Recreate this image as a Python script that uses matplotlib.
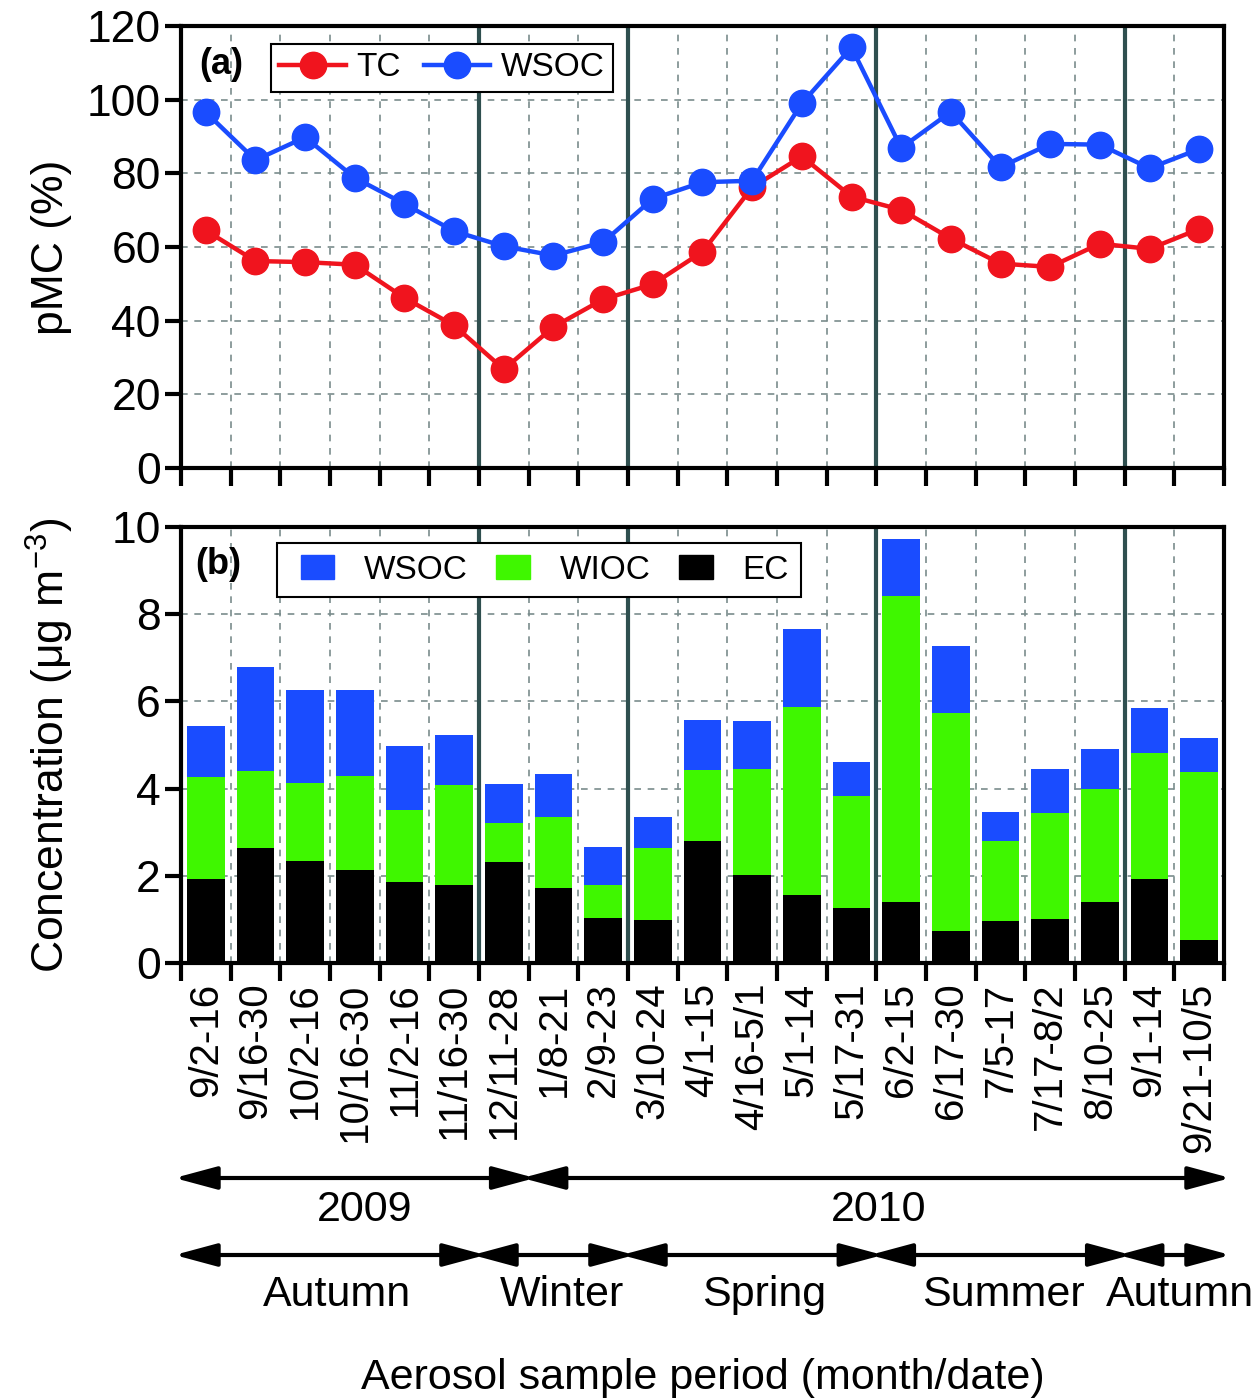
import numpy as np
import matplotlib.pyplot as plt
from matplotlib import transforms
from matplotlib.patches import FancyArrowPatch, Patch
from matplotlib.legend_handler import HandlerPatch

plt.rcParams["font.family"] = ["Liberation Sans", "DejaVu Sans"]
plt.rcParams["mathtext.fontset"] = "custom"
plt.rcParams["mathtext.rm"] = "Liberation Sans"
plt.rcParams["mathtext.it"] = "Liberation Sans:italic"

# sample periods (month/date)
periods = ["9/2-16", "9/16-30", "10/2-16", "10/16-30", "11/2-16", "11/16-30",
           "12/11-28", "1/8-21", "2/9-23", "3/10-24", "4/1-15", "4/16-5/1",
           "5/1-14", "5/17-31", "6/2-15", "6/17-30", "7/5-17", "7/17-8/2",
           "8/10-25", "9/1-14", "9/21-10/5"]

# (a) percent modern carbon
pmc_tc = [64.5, 56.2, 55.9, 55.2, 46.2, 38.7, 26.8, 38.3, 45.8, 49.9, 58.7,
          76.2, 84.6, 73.7, 70.1, 62.3, 55.5, 54.6, 60.9, 59.5, 64.9]
pmc_wsoc = [96.6, 83.6, 89.8, 78.8, 71.7, 64.3, 60.2, 57.7, 61.3, 73.1, 77.6,
            78.0, 99.0, 114.2, 86.9, 96.7, 81.7, 88.0, 87.8, 81.4, 86.6]

# (b) concentrations, ug m-3
conc_ec = [1.93, 2.64, 2.33, 2.14, 1.87, 1.78, 2.32, 1.73, 1.04, 0.99, 2.81,
           2.03, 1.57, 1.27, 1.39, 0.74, 0.96, 1.02, 1.41, 1.93, 0.54]
conc_wioc = [2.34, 1.76, 1.80, 2.16, 1.65, 2.31, 0.90, 1.63, 0.76, 1.65, 1.61,
             2.43, 4.30, 2.55, 7.03, 4.99, 1.85, 2.41, 2.57, 2.88, 3.83]
conc_wsoc = [1.17, 2.40, 2.14, 1.95, 1.46, 1.13, 0.88, 0.97, 0.86, 0.72, 1.16,
             1.09, 1.79, 0.80, 1.31, 1.53, 0.65, 1.02, 0.92, 1.05, 0.78]

season_breaks = [5.5, 8.5, 13.5, 18.5]
year_break = 6.5
seasons = ["Autumn", "Winter", "Spring", "Summer", "Autumn"]
season_label_x = [2.64, 7.17, 11.24, 16.05, 19.61]
years = ["2009", "2010"]
year_label_x = [3.2, 13.55]

RED = "#f0141e"
BLUE = "#1a4cff"
GREEN = "#3ff700"
SEASON_LINE = "#2f4f4f"

n = len(periods)
x = np.arange(n)
bounds = np.arange(-0.5, n)

fig = plt.figure(figsize=(12.54, 14), dpi=100)
ax1 = fig.add_axes([0.1443, 0.6657, 0.8318, 0.3157])
ax2 = fig.add_axes([0.1443, 0.3121, 0.8318, 0.3115])


def style_axes(ax):
    ax.set_xlim(-0.5, n - 0.5)
    ax.set_xticks(bounds)
    ax.set_xticklabels([])
    ax.tick_params(axis="x", which="major", direction="out", length=13, width=3)
    ax.tick_params(axis="y", direction="out", length=11.5, width=3,
                   labelsize=32, pad=3)
    for sp in ax.spines.values():
        sp.set_linewidth(3)
    ax.grid(True, linestyle=(0, (4, 4)), color="#7a8c8c", linewidth=1.2)
    ax.set_axisbelow(True)
    for b in season_breaks:
        ax.axvline(b, color=SEASON_LINE, lw=3, zorder=1.5)


# (a) pMC lines
style_axes(ax1)
ax1.plot(x, pmc_tc, "-o", color=RED, lw=3.2, ms=19, label="TC", zorder=3)
ax1.plot(x, pmc_wsoc, "-o", color=BLUE, lw=3.2, ms=19, label="WSOC", zorder=3)
ax1.set_ylim(0, 120)
ax1.set_yticks(np.arange(0, 121, 20))
leg1 = ax1.legend(loc="upper left", bbox_to_anchor=(0.0863, 0.959),
                  borderaxespad=0, ncol=2, fontsize=24, fancybox=False,
                  edgecolor="black", framealpha=1, handlelength=2.0,
                  handletextpad=0.3, columnspacing=0.7, borderpad=0.25)
leg1.get_frame().set_linewidth(1.5)
leg1.set_zorder(5)
ax1.text(0.018, 0.914, "(a)", transform=ax1.transAxes, fontsize=26,
         fontweight="bold", va="center", ha="left")

# (b) stacked carbon fractions
style_axes(ax2)
ec = np.array(conc_ec)
wioc = np.array(conc_wioc)
wsoc = np.array(conc_wsoc)
ax2.bar(x, ec, width=0.76, color="black", zorder=2)
ax2.bar(x, wioc, width=0.76, bottom=ec, color=GREEN, zorder=2)
ax2.bar(x, wsoc, width=0.76, bottom=ec + wioc, color=BLUE, zorder=2)
ax2.set_ylim(0, 10)
ax2.set_yticks(np.arange(0, 11, 2))
ax2.set_xticks(x, minor=True)
ax2.set_xticklabels(periods, minor=True, rotation=90, fontsize=29)
ax2.tick_params(axis="x", which="minor", length=0, pad=14)
handles = [Patch(color=BLUE), Patch(color=GREEN), Patch(color="black")]
leg2 = ax2.legend(handles, ["WSOC", "WIOC", "EC"], loc="upper left",
                  bbox_to_anchor=(0.092, 0.963), borderaxespad=0, ncol=3,
                  fontsize=24, fancybox=False, edgecolor="black", framealpha=1,
                  handlelength=1.36, handleheight=0.7, handletextpad=0.9,
                  columnspacing=0.5, borderpad=0.35,
                  handler_map={Patch: HandlerPatch(xpad=0.36)})
leg2.get_frame().set_linewidth(1.5)
leg2.set_zorder(5)
ax2.text(0.014, 0.913, "(b)", transform=ax2.transAxes, fontsize=26,
         fontweight="bold", va="center", ha="left")

# axis titles
fig.text(52 / 1254, 1 - 247 / 1400, "pMC (%)", rotation=90, fontsize=32,
         ha="center", va="center")
fig.text(50 / 1254, 1 - 745 / 1400, "Concentration (μg m$^{-3}$)",
         rotation=90, fontsize=32, ha="center", va="center")
fig.text(0.5603, 1 - 1378 / 1400, "Aerosol sample period (month/date)",
         fontsize=31, ha="center", va="center")

# year and season spans below the axis
blend = transforms.blended_transform_factory(ax2.transData, fig.transFigure)
tip = 0.13  # heads stop short of the end points, push them out a little


def span_arrow(x0, x1, ypix):
    y = 1 - ypix / 1400
    arr = FancyArrowPatch((x0 - tip, y), (x1 + tip, y), transform=blend,
                          arrowstyle="<|-|>,head_length=2.6,head_width=0.7",
                          mutation_scale=10, lw=3, color="black",
                          shrinkA=0, shrinkB=0)
    fig.add_artist(arr)


span_arrow(-0.5, year_break, 1178)
span_arrow(year_break, n - 0.5, 1178)
for yr, xl in zip(years, year_label_x):
    fig.text(xl, 1 - 1210 / 1400, yr, transform=blend, fontsize=31,
             ha="center", va="center")

edges = [-0.5] + season_breaks + [n - 0.5]
for i in range(len(seasons)):
    span_arrow(edges[i], edges[i + 1], 1255)
for s, xl in zip(seasons, season_label_x):
    fig.text(xl, 1 - 1295 / 1400, s, transform=blend, fontsize=31,
             ha="center", va="center")

fig.savefig("out.png", dpi=100)
